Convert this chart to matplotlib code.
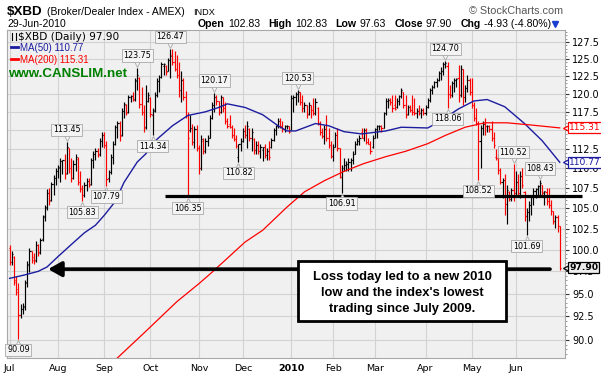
import matplotlib
matplotlib.use("Agg")
import matplotlib.pyplot as plt
import matplotlib.ticker as mticker
import matplotlib.transforms as mtransforms
from matplotlib.patches import Rectangle
from matplotlib.lines import Line2D
import numpy as np
import pandas as pd

# trading days Jul 1 2009 - Jun 29 2010
holidays = ["2009-07-03", "2009-09-07", "2009-11-26", "2009-12-25", "2010-01-01",
            "2010-01-18", "2010-02-15", "2010-04-02", "2010-05-31"]
dates = pd.bdate_range("2009-07-01", "2010-06-29")
dates = dates[~dates.isin(pd.to_datetime(holidays))]

# daily bars: open, high, low, close
opens = [100.2, 98.6, 99.2, 96.5, 95.5, 92.6, 93.3, 93.6, 96.3, 98.3, 99.8, 98.8, 98.8, 100.6, 99.7, 101.2,
         104.0, 105.0, 106.8, 106.0, 108.0, 108.8, 109.6, 110.0, 110.9, 111.0, 109.4, 112.6, 110.0, 108.8, 110.6,
         111.2, 108.3, 107.4, 106.6, 107.9, 108.4, 108.0, 111.0, 111.8, 112.3, 111.8, 113.5, 114.4, 113.0, 108.7,
         109.5, 111.5, 113.2, 115.4, 116.0, 114.3, 117.6, 118.4, 117.5, 119.5, 119.7, 119.3, 121.9, 122.2, 118.6,
         117.5, 115.4, 119.0, 119.4, 117.0, 117.7, 119.9, 121.8, 122.4, 124.0, 124.0, 123.2, 124.8, 125.6, 124.6,
         123.6, 122.7, 120.6, 122.0, 119.6, 117.0, 115.0, 115.3, 113.4, 115.1, 112.6, 110.0, 113.6, 112.2, 113.5,
         114.0, 116.6, 118.5, 119.6, 119.0, 117.5, 119.5, 118.0, 116.3, 115.8, 115.4, 114.4, 113.8, 111.5, 113.1,
         113.6, 114.9, 114.3, 115.2, 113.9, 113.8, 112.4, 113.0, 112.2, 112.4, 112.8, 111.7, 112.2, 112.8, 113.7,
         115.0, 115.5, 116.3, 115.6, 115.2, 115.5, 115.6, 115.0, 119.4, 119.6, 120.0, 120.3, 118.9, 118.0, 118.5,
         117.2, 118.5, 117.8, 117.4, 118.0, 116.0, 114.8, 114.2, 115.2, 114.0, 113.0, 111.6, 112.8, 114.4, 112.6,
         108.9, 110.0, 110.4, 110.6, 110.8, 111.0, 111.9, 113.2, 113.6, 114.8, 114.0, 115.0, 113.4, 113.2, 112.8,
         114.0, 115.1, 115.5, 115.6, 115.3, 117.3, 119.0, 119.2, 118.9, 118.5, 118.2, 119.0, 119.7, 120.2, 118.5,
         117.2, 118.2, 117.7, 117.5, 117.3, 117.6, 117.3, 117.7, 117.4, 118.2, 119.2, 120.5, 121.0, 121.6, 122.0,
         122.9, 123.2, 124.2, 124.0, 120.0, 119.8, 121.5, 122.0, 122.2, 119.8, 123.5, 119.5, 120.8, 121.9, 120.3,
         118.4, 116.6, 116.0, 113.5, 115.3, 115.8, 115.5, 115.6, 115.1, 114.0, 111.5, 111.3, 109.8, 108.3, 108.5,
         105.5, 107.0, 106.1, 107.2, 106.8, 108.3, 106.9, 109.0, 107.0, 104.0, 104.5, 105.4, 106.3, 107.1, 107.3,
         107.7, 107.9, 106.9, 107.0, 105.8, 105.4, 104.6, 103.4, 103.9, 102.83]
highs = [100.6, 99.8, 99.3, 97.0, 96.2, 93.8, 93.9, 96.5, 98.7, 100.2, 99.9, 99.6, 101.0, 100.7, 101.4,
         104.2, 105.4, 107.3, 107.5, 108.3, 109.1, 110.0, 110.4, 111.3, 111.1, 111.8, 113.45, 112.6, 111.3, 111.0,
         111.8, 111.4, 109.6, 107.8, 108.3, 108.7, 108.7, 111.3, 112.2, 112.6, 112.6, 113.9, 114.8, 114.8, 113.5,
         109.8, 111.8, 113.5, 115.7, 116.2, 116.2, 118.0, 118.9, 118.6, 119.9, 119.9, 120.3, 122.2, 123.75, 122.4,
         120.9, 118.4, 121.3, 120.3, 119.6, 118.0, 120.3, 122.2, 122.7, 124.6, 124.4, 124.1, 125.1, 126.47, 126.5,
         126.1, 125.6, 124.6, 123.2, 122.2, 120.4, 117.5, 117.1, 115.8, 115.6, 115.7, 113.0, 114.4, 113.9, 113.9,
         114.4, 117.0, 118.9, 120.17, 119.8, 119.0, 119.9, 119.6, 118.9, 116.6, 117.1, 115.7, 115.3, 114.4, 113.2,
         113.9, 115.3, 115.7, 116.2, 115.3, 115.3, 113.9, 113.5, 113.5, 113.1, 112.8, 113.1, 112.6, 113.5, 113.9,
         115.3, 115.7, 116.6, 116.6, 116.2, 115.7, 115.7, 115.6, 119.9, 119.9, 120.3, 120.53, 120.3, 119.9, 118.9,
         118.5, 118.9, 118.5, 119.4, 119.4, 118.2, 116.2, 115.3, 115.7, 117.1, 115.3, 113.5, 113.1, 114.8, 115.3,
         112.6, 110.4, 111.3, 110.9, 111.3, 111.3, 112.2, 113.5, 113.9, 114.4, 115.3, 115.3, 115.3, 113.9, 113.5,
         114.4, 115.3, 115.7, 115.7, 115.7, 117.5, 119.4, 119.4, 119.4, 119.9, 119.9, 119.4, 119.9, 120.8, 120.3,
         119.9, 118.5, 118.5, 119.9, 119.4, 118.0, 118.5, 118.0, 118.0, 118.5, 119.4, 120.8, 121.3, 121.8, 122.2,
         123.2, 123.8, 124.6, 124.70, 124.6, 121.3, 121.8, 122.2, 122.2, 124.1, 124.1, 123.6, 121.3, 122.7, 122.2,
         122.2, 118.9, 118.0, 116.2, 115.7, 116.2, 116.6, 115.7, 115.7, 116.2, 114.8, 112.5, 111.8, 110.0, 108.7,
         109.2, 107.9, 107.1, 107.5, 110.52, 109.6, 109.2, 109.6, 110.0, 107.1, 105.0, 105.8, 106.6, 107.5, 107.5,
         107.9, 108.43, 107.9, 107.1, 107.5, 107.5, 106.0, 104.6, 104.2, 104.2, 102.83]
lows = [98.2, 98.2, 96.0, 94.8, 90.09, 92.3, 92.7, 93.2, 95.7, 97.4, 98.4, 98.3, 98.6, 99.3, 99.5,
        101.0, 103.4, 104.8, 105.4, 105.8, 106.6, 107.9, 108.7, 108.3, 109.2, 108.6, 109.2, 109.4, 108.3, 108.6,
        109.6, 107.9, 107.0, 105.83, 106.4, 107.1, 107.6, 107.9, 110.0, 111.0, 111.4, 111.6, 112.8, 112.6, 107.79,
        108.3, 109.2, 110.5, 113.0, 113.9, 113.5, 114.2, 116.6, 117.1, 117.3, 118.9, 119.0, 119.0, 120.5, 118.0,
        117.1, 114.8, 115.2, 118.9, 116.8, 114.34, 117.5, 119.6, 120.3, 122.2, 122.7, 122.7, 123.2, 122.2, 124.1,
        123.2, 122.2, 119.5, 118.9, 119.2, 116.6, 106.35, 114.8, 113.0, 112.6, 112.2, 109.2, 109.8, 111.8, 112.0,
        112.9, 113.9, 116.5, 117.5, 118.5, 117.1, 117.4, 117.5, 115.8, 115.3, 115.3, 113.9, 113.5, 112.6, 110.82,
        112.2, 113.4, 113.9, 112.6, 113.5, 112.2, 111.8, 111.8, 111.8, 111.3, 110.9, 111.3, 111.1, 111.1, 112.6,
        113.5, 114.4, 115.3, 115.3, 114.8, 114.8, 115.1, 114.6, 115.0, 117.5, 118.5, 118.9, 118.5, 117.5, 117.5,
        116.6, 117.1, 116.6, 117.0, 117.1, 115.7, 114.4, 113.9, 113.1, 113.5, 112.6, 111.3, 110.9, 112.7, 112.2,
        108.7, 106.91, 109.6, 109.6, 109.6, 109.6, 110.5, 111.8, 113.0, 113.0, 113.9, 113.5, 113.1, 113.1, 111.8,
        112.6, 113.9, 113.9, 115.0, 114.8, 115.3, 117.1, 118.0, 118.5, 117.5, 117.8, 118.0, 118.5, 119.4, 118.0,
        116.6, 117.0, 117.5, 117.1, 117.1, 116.6, 117.1, 116.6, 117.1, 117.1, 118.0, 118.9, 120.0, 120.8, 121.0,
        121.8, 122.0, 122.7, 123.7, 118.06, 119.4, 119.6, 120.3, 121.0, 118.9, 119.5, 118.5, 118.9, 120.3, 119.9,
        118.0, 116.2, 115.7, 108.52, 110.0, 114.4, 114.4, 114.8, 114.8, 113.5, 112.6, 111.0, 109.2, 108.0, 106.2,
        104.2, 103.0, 105.8, 105.8, 105.8, 106.6, 106.6, 106.2, 107.5, 103.4, 101.69, 103.4, 104.2, 105.4, 106.2,
        106.6, 106.6, 106.6, 105.4, 105.4, 105.0, 104.2, 103.0, 102.6, 102.1, 97.63]
closes = [98.6, 99.5, 96.3, 95.2, 92.6, 93.3, 93.5, 96.2, 98.2, 99.9, 99.2, 98.7, 100.6, 99.6, 101.1,
          103.9, 105.1, 106.8, 105.9, 108.0, 108.7, 109.7, 110.1, 110.9, 111.0, 109.3, 112.8, 110.0, 108.8, 110.6,
          111.4, 108.3, 107.5, 106.6, 107.9, 108.4, 107.9, 111.0, 111.8, 112.3, 111.7, 113.5, 114.4, 113.0, 108.6,
          109.5, 111.5, 113.2, 115.4, 116.0, 114.2, 117.6, 118.6, 117.4, 119.5, 119.7, 119.2, 121.8, 122.6, 118.6,
          117.5, 115.3, 119.0, 119.9, 117.2, 117.6, 119.9, 121.8, 122.4, 124.2, 124.3, 123.1, 124.8, 125.5, 124.6,
          123.6, 122.7, 120.5, 122.0, 119.6, 117.0, 114.0, 115.3, 113.4, 115.1, 112.6, 110.0, 113.8, 112.2, 113.5,
          114.0, 116.6, 118.5, 119.6, 119.0, 117.5, 119.5, 118.0, 116.3, 115.6, 115.4, 114.4, 113.8, 112.9, 113.1,
          113.6, 114.9, 114.3, 115.5, 113.9, 114.8, 112.4, 113.0, 112.2, 112.7, 112.8, 111.7, 112.2, 111.5, 113.7,
          115.0, 115.5, 116.3, 115.6, 115.2, 115.5, 115.6, 114.8, 119.4, 119.6, 120.0, 120.3, 118.9, 118.0, 118.5,
          117.2, 118.5, 117.8, 117.4, 118.9, 116.0, 114.8, 114.2, 115.2, 114.0, 113.0, 111.6, 112.8, 114.4, 112.6,
          108.9, 109.6, 110.4, 110.6, 110.8, 111.0, 111.9, 113.2, 113.6, 114.0, 113.9, 115.0, 113.4, 113.2, 112.2,
          114.0, 115.1, 115.5, 115.6, 115.3, 117.3, 119.0, 119.2, 118.9, 118.0, 117.9, 119.0, 119.7, 120.5, 118.5,
          117.0, 118.2, 117.7, 117.5, 117.3, 117.6, 117.3, 117.7, 117.4, 118.2, 119.2, 120.5, 121.0, 121.6, 122.0,
          122.9, 123.2, 124.2, 124.4, 120.0, 119.8, 121.5, 122.0, 122.1, 119.8, 123.5, 119.5, 120.8, 121.9, 120.3,
          118.4, 116.6, 116.0, 113.5, 115.3, 115.8, 115.5, 115.6, 115.1, 114.0, 113.0, 111.3, 109.8, 108.3, 108.5,
          105.5, 107.2, 106.1, 107.2, 106.8, 108.3, 106.9, 109.0, 107.9, 104.0, 104.5, 105.4, 106.3, 107.1, 107.3,
          107.7, 108.1, 107.0, 107.05, 105.8, 105.4, 104.6, 103.4, 103.9, 102.83, 97.90]

# moving averages read at points along the lines (trading-day index, value)
ma50_idx = [0, 7, 13, 17, 22, 28, 34, 39, 43, 48, 52, 58, 62, 67, 74, 81, 89, 95, 99, 107, 115, 122,
            126, 130, 139, 145, 152, 160, 171, 178, 190, 195, 204, 211, 217, 225, 234, 242, 250]
ma50_val = [96.7, 97.1, 97.5, 98.0, 99.2, 100.6, 102.0, 102.9, 104.1, 105.8, 108.2, 110.8, 111.9, 113.8,
            115.6, 117.0, 117.5, 118.1, 118.6, 118.1, 117.1, 115.6, 114.9, 114.9, 115.9, 115.6, 114.8, 114.5,
            114.9, 115.4, 115.3, 116.1, 117.9, 119.0, 119.2, 118.2, 115.9, 113.6, 110.77]
ma200_idx = [48, 61, 76, 86, 92, 107, 115, 126, 134, 143, 152, 161, 171, 180, 190, 198, 207, 216, 226,
             237, 250]
ma200_val = [87.9, 90.7, 94.1, 96.1, 97.4, 100.9, 102.3, 105.1, 107.0, 108.4, 109.6, 110.6, 111.5, 112.2,
             113.2, 114.3, 115.4, 116.0, 116.0, 115.7, 115.31]

# labelled highs / lows
note_idx = [4, 26, 33, 44, 58, 65, 73, 81, 93, 104, 131, 151, 198, 199, 213, 229, 235, 241]
note_val = [90.09, 113.45, 105.83, 107.79, 123.75, 114.34, 126.47, 106.35, 120.17, 110.82, 120.53,
            106.91, 124.70, 118.06, 108.52, 110.52, 101.69, 108.43]
note_up = [False, True, False, False, True, False, True, False, True, False, True,
           False, True, False, False, True, False, True]

support_level = 106.5
arrow_level = 97.75

W, H = 601, 378
BG = "#f0f0f0"
GRID = "#d2d2d2"
RED = "#ff0000"
BLUE = "#1c1ca0"

fig = plt.figure(figsize=(W / 100, H / 100), dpi=100)
fig.patch.set_facecolor("white")
ax = fig.add_axes([7 / W, 20 / H, 558 / W, 328 / H])
ax.set_facecolor(BG)

n = min(len(opens), len(highs), len(lows), len(closes))
x = np.arange(n)
o = np.array(opens[:n])
hi = np.array(highs[:n])
lo = np.array(lows[:n])
c = np.array(closes[:n])
prev = np.r_[o[0], c[:-1]]
cols = np.where(c < prev, RED, "black")

ax.vlines(x, lo, hi, colors=cols, lw=0.85, zorder=3)
ax.hlines(o, x - 0.5, x, colors=cols, lw=0.85, zorder=3)
ax.hlines(c, x, x + 0.5, colors=cols, lw=0.85, zorder=3)

ax.plot(ma50_idx, ma50_val, color=BLUE, lw=1.0, zorder=4)
ax.plot(ma200_idx, ma200_val, color=RED, lw=0.9, zorder=4)

ax.set_yscale("log")
ax.set_xlim(-1.2, 252.4)
ax.set_ylim(88.1, 129.3)
ax.yaxis.set_major_locator(mticker.FixedLocator(np.arange(90, 128, 2.5)))
ax.yaxis.set_major_formatter(mticker.FormatStrFormatter("%.1f"))
ax.yaxis.set_minor_locator(mticker.FixedLocator(np.arange(88.5, 129.1, 0.5)))
ax.yaxis.set_minor_formatter(mticker.NullFormatter())
ax.yaxis.tick_right()
ax.tick_params(axis="y", which="major", length=3, pad=2, labelsize=7, colors="#333333",
               labelcolor="black")
ax.tick_params(axis="y", which="minor", length=1.5, colors="#888888")

# month ticks
month_pos, month_lab = [], []
for k, d in enumerate(dates):
    if k == 0 or d.month != dates[k - 1].month:
        month_pos.append(k)
        month_lab.append(str(d.year) if d.month == 1 else d.strftime("%b"))
ax.set_xticks(month_pos, month_lab)
ax.tick_params(axis="x", length=0, pad=4, labelsize=6.8)
for t in ax.get_xticklabels():
    if t.get_text().isdigit():
        t.set_fontweight("bold")
ax.grid(True, which="major", color=GRID, lw=0.8, zorder=0)
ax.set_axisbelow(True)
for s in ax.spines.values():
    s.set_color("#a8a8a8")
    s.set_linewidth(0.8)

# support line and arrow
ax.plot([70.6, 260], [support_level, support_level], color="black", lw=2.3,
        solid_capstyle="butt", clip_on=False, zorder=5)
ax.annotate("", xy=(17.5, arrow_level), xytext=(245.6, arrow_level),
            arrowprops=dict(arrowstyle="-|>,head_length=0.8,head_width=0.45", lw=2.6,
                            color="black", shrinkA=0, shrinkB=0, mutation_scale=10),
            zorder=5)

# high / low tags
for i, v, up in zip(note_idx, note_val, note_up):
    off = 12 if up else -11
    ax.annotate(f"{v:.2f}", xy=(i, v), xytext=(0, off), textcoords="offset pixels",
                ha="center", va="center", fontsize=5.8, color="black", zorder=7,
                annotation_clip=False,
                bbox=dict(boxstyle="square,pad=0.2", fc="#f4f4f4", ec="#a8a8a8", lw=0.6))
    tr = mtransforms.offset_copy(ax.transData, fig=fig, x=0, y=(4 if up else -4), units="dots")
    ax.plot([i], [v], marker="v" if up else "^", ms=4, mfc="#f4f4f4", mec="#a8a8a8",
            mew=0.6, transform=tr, zorder=6, clip_on=False)

# right side value tags
ytr = ax.get_yaxis_transform()
for v, col, w, fc in [(115.31, RED, "normal", "white"), (110.77, BLUE, "normal", "white"),
                      (97.90, "black", "bold", "#eeeeee")]:
    ax.annotate(f"{v:.2f}", xy=(1.0, v), xycoords=ytr, xytext=(4, 0), textcoords="offset pixels",
                ha="left", va="center", fontsize=6.6, color=col, fontweight=w, zorder=9,
                annotation_clip=False,
                bbox=dict(boxstyle="square,pad=0.12", fc=fc, ec=col, lw=0.9))
    tr = mtransforms.offset_copy(ytr, fig=fig, x=1, y=0, units="dots")
    ax.plot([1.0], [v], marker="<", ms=5, mfc=fc, mec=col, mew=0.9, transform=tr,
            zorder=8, clip_on=False)

# comment box
fig.add_artist(Rectangle((298 / W, 1 - 321 / H), 208 / W, 60 / H, transform=fig.transFigure,
                         fc="white", ec="black", lw=2, zorder=10))
box_lines = ["Loss today led to a new 2010", "low and the index's lowest", "trading since July 2009."]
for k, s in enumerate(box_lines):
    fig.text(402 / W, 1 - (280 + 16 * k) / H, s, ha="center", va="baseline", fontsize=9.4,
             fontweight="bold", family="Liberation Sans", zorder=11)


def fy(px):
    return 1 - px / H


# header
fig.text(7 / W, fy(15), "$XBD", fontsize=9.6, fontweight="bold", family="Liberation Sans", va="baseline")
fig.text(47 / W, fy(15), "(Broker/Dealer Index - AMEX)", fontsize=7.5, family="Liberation Sans",
         va="baseline")
fig.text(193 / W, fy(15), "INDX", fontsize=6.6, family="Liberation Sans", va="baseline")
fig.text(7 / W, fy(27), "29-Jun-2010", fontsize=7.5, family="Liberation Sans", va="baseline")
fig.text(563 / W, fy(14), "\u00a9 StockCharts.com", fontsize=7.8, family="Liberation Sans",
         color="#555555", ha="right", va="baseline")

parts = [("Open", "bold"), ("102.83", "normal"), ("High", "bold"), ("102.83", "normal"),
         ("Low", "bold"), ("97.63", "normal"), ("Close", "bold"), ("97.90", "normal"),
         ("Chg", "bold"), ("-4.93 (-4.80%)", "normal")]
r = fig.canvas.get_renderer()
xp = 198
for k, (s, w) in enumerate(parts):
    t = fig.text(xp / W, fy(27), s, fontsize=7.6, fontweight=w, family="Liberation Sans", va="baseline")
    xp += t.get_window_extent(r).width + (3 if w == "bold" else 8.5)
fig.add_artist(Line2D([(xp - 4) / W], [fy(24)], marker="v", ms=4.5, color="#1a3fd0",
                      transform=fig.transFigure))

# legend inside plot
fig.add_artist(Line2D([12 / W, 12 / W], [fy(33), fy(40)], color="black", lw=0.8))
fig.add_artist(Line2D([16 / W, 16 / W], [fy(33), fy(40)], color="black", lw=0.8))
fig.text(18 / W, fy(40), "$XBD (Daily) 97.90", fontsize=7.6, va="baseline")
fig.add_artist(Line2D([11 / W, 18 / W], [fy(47), fy(47)], color=BLUE, lw=2))
fig.text(20 / W, fy(51), "MA(50) 110.77", fontsize=7, family="Liberation Sans", color=BLUE,
         va="baseline")
fig.add_artist(Line2D([11 / W, 18 / W], [fy(59), fy(59)], color=RED, lw=2))
fig.text(20 / W, fy(63), "MA(200) 115.31", fontsize=7, family="Liberation Sans", color=RED,
         va="baseline")
fig.text(8 / W, fy(77), "www.CANSLIM.net", fontsize=9.6, fontweight="bold", family="Liberation Sans",
         color="#008000", va="baseline")

fig.savefig("out.png", dpi=100)
